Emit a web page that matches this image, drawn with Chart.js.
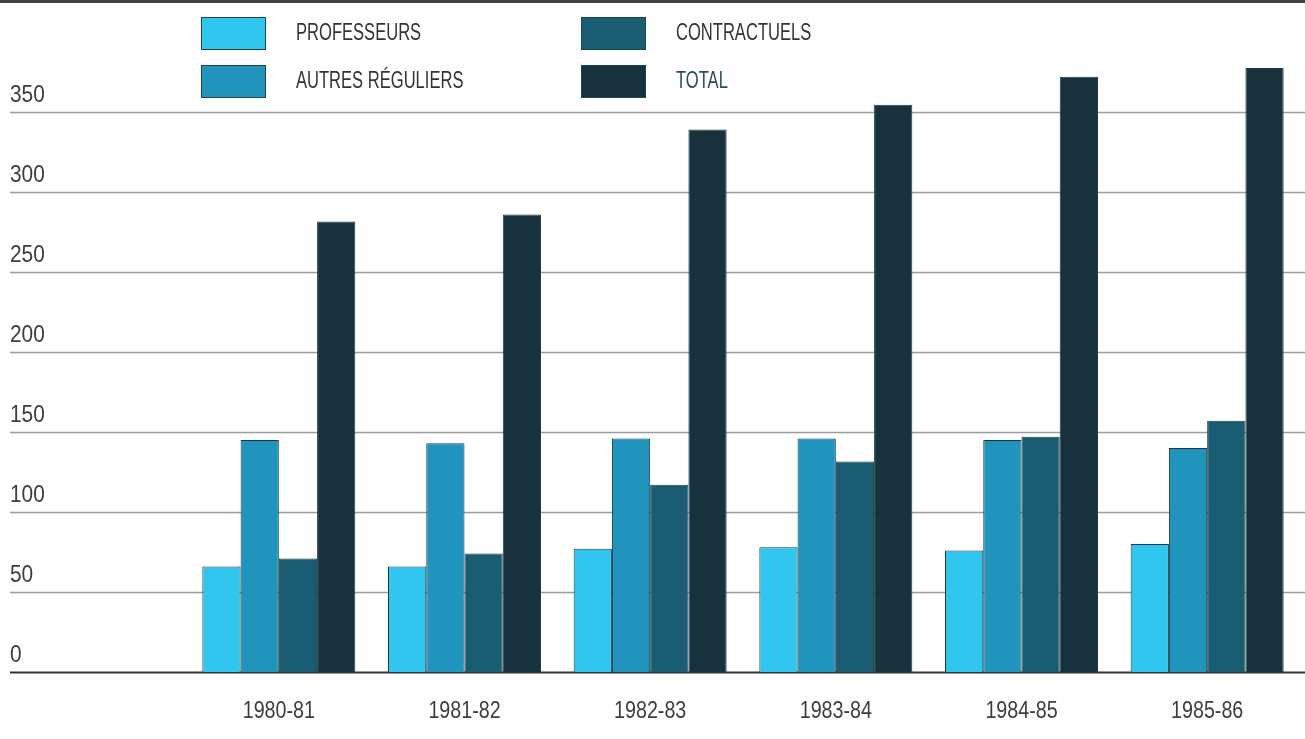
<!DOCTYPE html>
<html>
<head>
<meta charset="utf-8">
<script src="https://cdn.jsdelivr.net/npm/chart.js@4/dist/chart.umd.min.js"></script>
<style>
    html, body { margin: 0; padding: 0; background: #ffffff; }
    #myChart { display: block; }
</style>
</head>
<body>
<canvas id="myChart" width="1305" height="739"></canvas>
<script>
// donnees
var annees = ['1980-81', '1981-82', '1982-83', '1983-84', '1984-85', '1985-86'];
var professeurs = [66, 66, 77, 78, 76, 80];
var autresReguliers = [145, 143, 146, 146, 145, 140];
var contractuels = [71, 74, 117, 131.5, 147, 157];
var total = [281.5, 286, 339, 354.5, 372, 377.5];
var graduations = [0, 50, 100, 150, 200, 250, 300, 350];

// pas de police etroite installee : Liberation Sans resserree a la main
var police = '"Liberation Sans", Arial, sans-serif';

function texteEtroit(ctx, txt, x, y, taille, serrage, align) {
    ctx.save();
    ctx.font = taille + 'px ' + police;
    var w = ctx.measureText(txt).width * serrage;
    var dx = align === 'center' ? x - w / 2 : x;
    ctx.translate(dx, y);
    ctx.scale(serrage, 1);
    ctx.textAlign = 'left';
    ctx.textBaseline = 'middle';
    ctx.fillText(txt, 0, 0);
    ctx.restore();
}

// grille, etiquettes et legende dessinees autour des barres
var decor = {
    id: 'decor',
    beforeDatasetsDraw: function (chart) {
        var ctx = chart.ctx;
        var y = chart.scales.y;
        var w = chart.width;
        ctx.save();
        // filet du haut
        ctx.fillStyle = '#3c4446';
        ctx.fillRect(0, 0, w, 3);
        graduations.forEach(function (v) {
            var py = Math.round(y.getPixelForValue(v)) + 0.5;
            ctx.beginPath();
            ctx.moveTo(10, py);
            ctx.lineTo(w, py);
            if (v === 0) {
                ctx.strokeStyle = '#2a3336';
                ctx.lineWidth = 2;
            } else {
                ctx.strokeStyle = '#9a9c9c';
                ctx.lineWidth = 1.5;
            }
            ctx.stroke();
        });
        ctx.restore();
    },
    afterDraw: function (chart) {
        var ctx = chart.ctx;
        var x = chart.scales.x;
        var y = chart.scales.y;
        ctx.save();
        ctx.fillStyle = '#3d3d3d';
        graduations.forEach(function (v) {
            texteEtroit(ctx, String(v), 10, y.getPixelForValue(v) - 17, 24, 0.87, 'left');
        });
        chart.data.labels.forEach(function (lab, i) {
            texteEtroit(ctx, lab, x.getPixelForValue(i), 711, 24, 0.82, 'center');
        });

        // legende sur deux colonnes
        var places = [
            { x: 201, y: 17 },
            { x: 201, y: 65 },
            { x: 581, y: 17 },
            { x: 581, y: 65 }
        ];
        chart.data.datasets.forEach(function (ds, i) {
            var p = places[i];
            ctx.fillStyle = ds.backgroundColor;
            ctx.fillRect(p.x, p.y, 65, 33);
            ctx.strokeStyle = '#1f4552';
            ctx.lineWidth = 1;
            ctx.strokeRect(p.x + 0.5, p.y + 0.5, 64, 32);
            ctx.fillStyle = i === 3 ? '#2c4d56' : '#333333';
            texteEtroit(ctx, ds.label, p.x + 95, p.y + 17, 23, 0.72, 'left');
        });
        ctx.restore();
    }
};

var ctx = document.getElementById('myChart').getContext('2d');

var graphData = {
    type: 'bar',
    data: {
        labels: annees,
        datasets: [
            { label: 'PROFESSEURS', data: professeurs, backgroundColor: '#31c6ef' },
            { label: 'AUTRES RÉGULIERS', data: autresReguliers, backgroundColor: '#2194bd' },
            { label: 'CONTRACTUELS', data: contractuels, backgroundColor: '#1a5d72' },
            { label: 'TOTAL', data: total, backgroundColor: '#17323c' }
        ]
    },
    options: {
        responsive: false,
        animation: false,
        layout: { padding: { left: 186, right: 5, top: 32 } },
        datasets: {
            bar: {
                categoryPercentage: 0.824,
                barPercentage: 1.0,
                borderWidth: 1,
                borderColor: '#1b3a45'
            }
        },
        plugins: {
            legend: { display: false },
            tooltip: { enabled: false }
        },
        scales: {
            x: {
                grid: { display: false },
                border: { display: false },
                ticks: { display: false },
                afterFit: function (s) { s.height = 67; }
            },
            y: {
                display: false,
                min: 0,
                max: 400
            }
        }
    },
    plugins: [decor]
};

var myChart = new Chart(ctx, graphData);
</script>
</body>
</html>
